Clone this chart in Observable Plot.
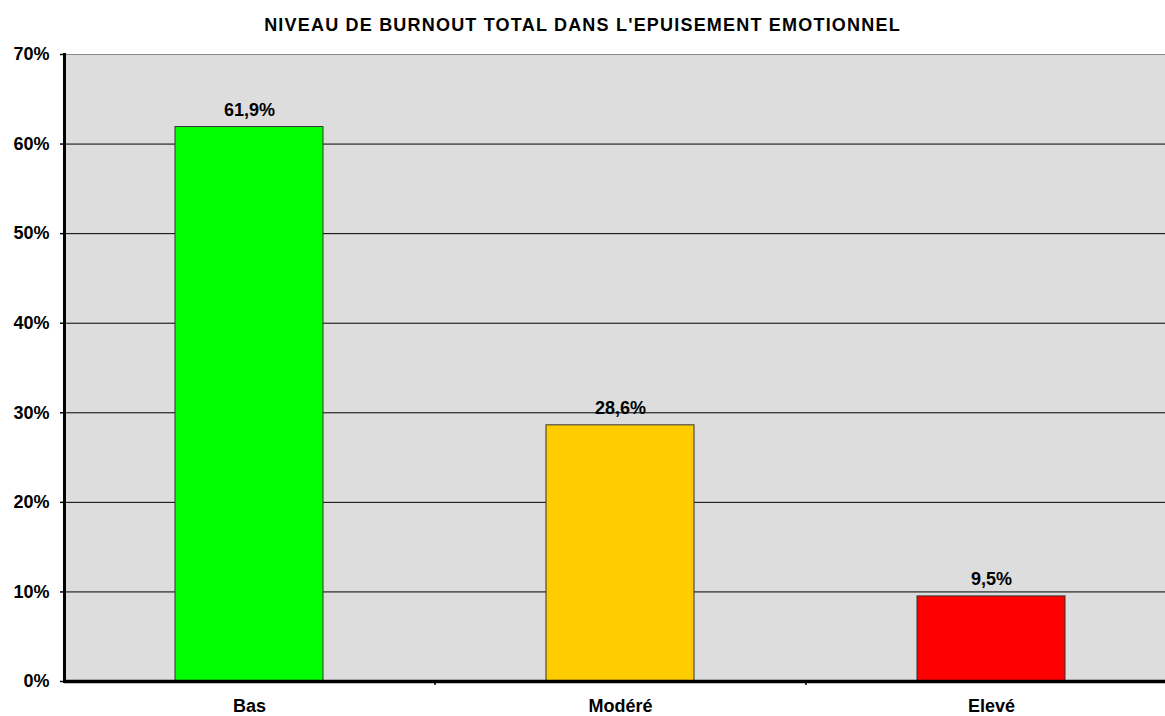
<!DOCTYPE html>
<html>
<head>
<meta charset="utf-8">
<script src="https://cdn.jsdelivr.net/npm/d3@7"></script>
<script src="https://cdn.jsdelivr.net/npm/@observablehq/plot@0.6"></script>
<style>
  body { margin: 0; background: #fff; }
  #wrap { position: relative; width: 1165px; height: 716px; overflow: hidden; }
  #title { position: absolute; left: 0; top: 16px; width: 1165px; text-align: center;
    font: bold 18px "Liberation Sans", Arial, sans-serif; line-height: 18px; letter-spacing: 1.2px; color: #000; }
  #chart { position: absolute; left: 0; top: 0; }
</style>
</head>
<body>
<div id="wrap">
  <div id="chart"></div>
  <div id="title">NIVEAU DE BURNOUT TOTAL DANS L'EPUISEMENT EMOTIONNEL</div>
</div>
<script>
const categories = ["Bas", "Modéré", "Elevé"];
const values = [61.9, 28.6, 9.5];
const colors = ["#00ff00", "#ffcc00", "#ff0000"];
const yTicks = [0, 10, 20, 30, 40, 50, 60, 70];

const data = categories.map((c, i) => ({cat: c, value: values[i], color: colors[i]}));

const W = 1165, H = 716;
const mLeft = 64, mTop = 54, yBottom = 681;
const xRange = [mLeft, mLeft + 1113];
const step = (xRange[1] - xRange[0]) / categories.length;
const font = "Liberation Sans, Arial, sans-serif";

const plot = Plot.plot({
  width: W,
  height: H,
  marginLeft: mLeft,
  marginRight: 0,
  marginTop: mTop,
  marginBottom: H - yBottom,
  style: {fontFamily: font, background: "transparent", overflow: "hidden"},
  x: {domain: categories, range: xRange, paddingInner: 0.6, paddingOuter: 0.3, label: null},
  y: {domain: [0, 70], range: [yBottom, mTop], label: null},
  marks: [
    Plot.frame({fill: "#dddddd", stroke: "#8a8a8a"}),
    Plot.gridY(yTicks.filter(t => t > 0 && t < 70), {stroke: "#000", strokeOpacity: 1, strokeWidth: 1}),
    Plot.barY(data, {x: "cat", y: "value", fill: "color", stroke: "#333", strokeWidth: 1}),
    Plot.text(data, {x: "cat", y: "value", text: d => d.value.toFixed(1).replace(".", ",") + "%",
      dy: -17, fontSize: 18, fontWeight: "bold", fill: "#000"}),
    Plot.ruleY([0], {stroke: "#000", strokeWidth: 3.5}),
    Plot.ruleX(categories.slice(1), {x: d => d, dx: -step / 2, y1: 0, y2: -0.45, stroke: "#000", strokeWidth: 1.5}),
    Plot.axisY({ticks: yTicks, tickSize: 4, tickPadding: 11, tickFormat: d => d + "%", label: null,
      fontSize: 18, fontWeight: "bold", stroke: "#000", strokeWidth: 1.5, fill: "#000"}),
    Plot.axisX({tickSize: 0, tickPadding: 18, label: null, fontSize: 18, fontWeight: "bold", fill: "#000"}),
    Plot.frame({anchor: "left", stroke: "#000", strokeWidth: 3})
  ]
});
document.getElementById("chart").appendChild(plot);
</script>
</body>
</html>
